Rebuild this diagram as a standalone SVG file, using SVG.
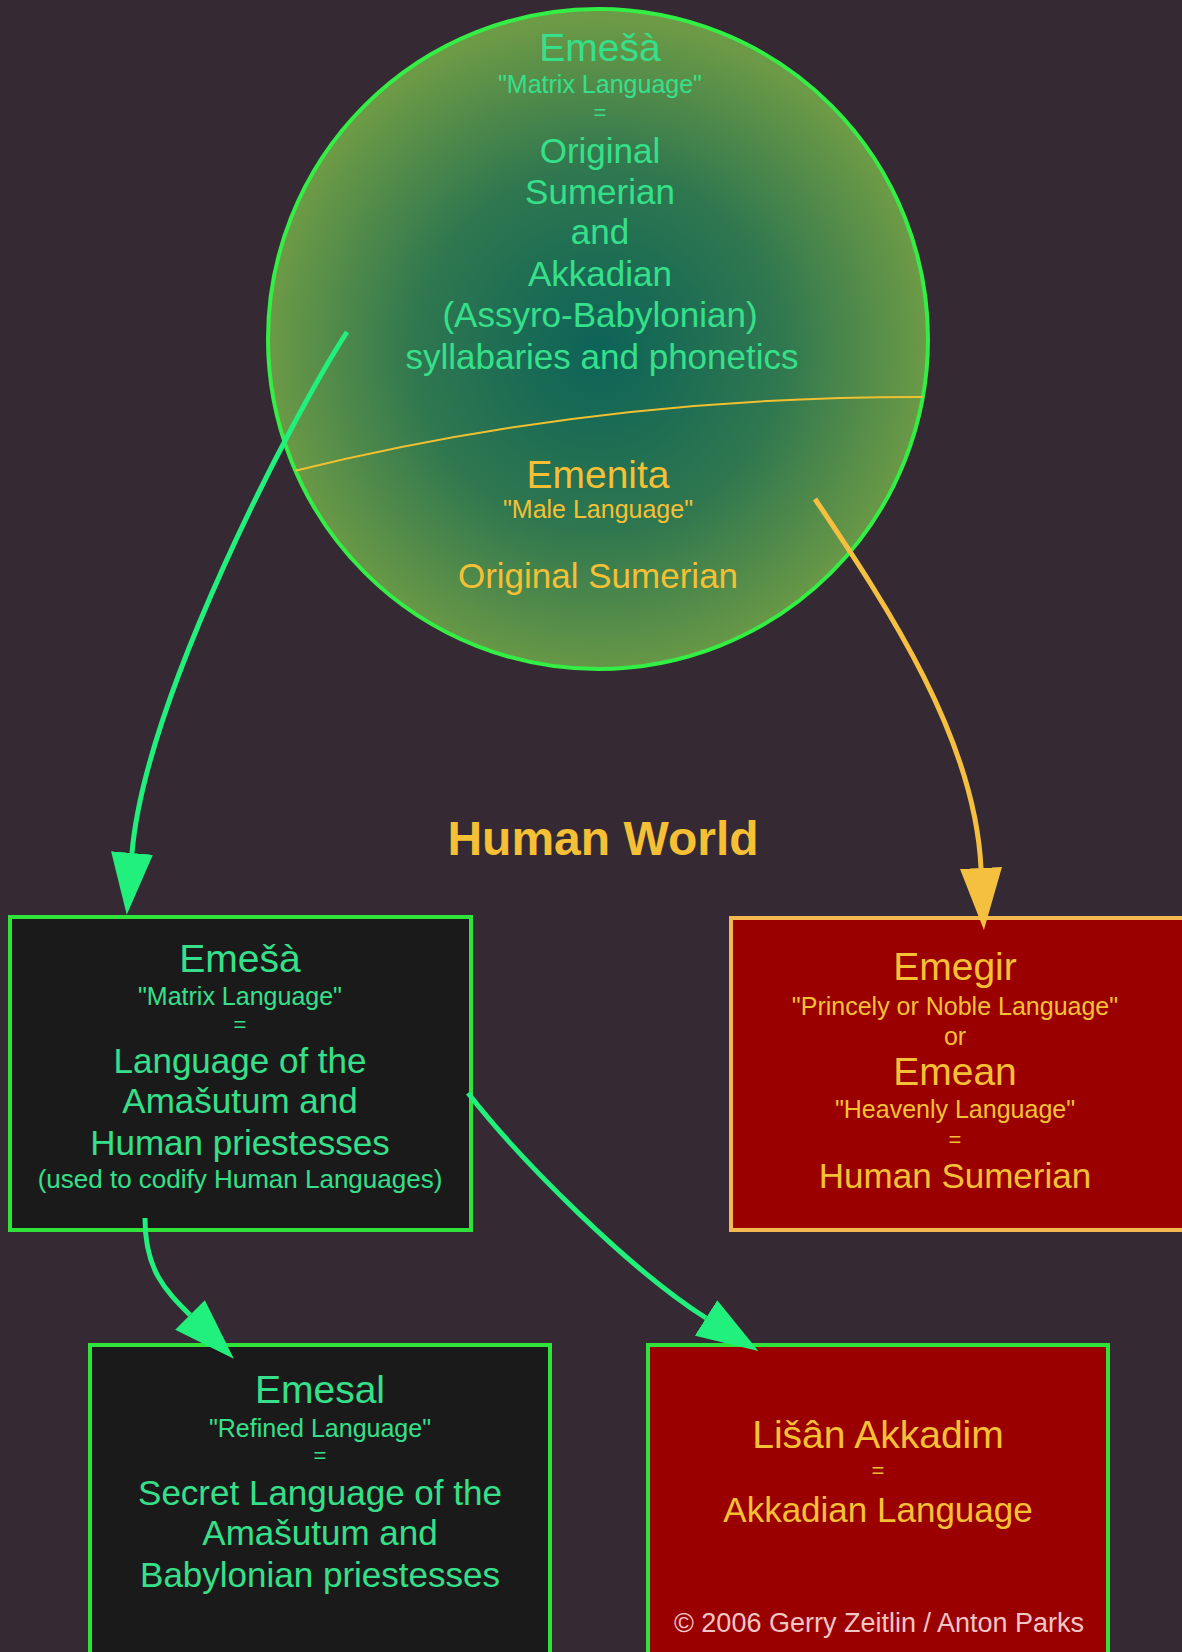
<svg xmlns="http://www.w3.org/2000/svg" width="1182" height="1652" viewBox="0 0 1182 1652">
<style>
text{font-family:"Liberation Sans",Arial,sans-serif;text-anchor:middle}
.g{fill:#36e08a}
.y{fill:#f5c035}
.t{font-size:39px}
.m{font-size:35px}
.q{font-size:25px}
.e{font-size:22px}
.box{stroke-width:4}
.gb{fill:#1b1a1b;stroke:#30e33a}
.rb{fill:#9a0000}
.conn{fill:none;stroke-width:5}
</style>
<defs>
<radialGradient id="cg" cx="598" cy="350" r="330" gradientUnits="userSpaceOnUse">
<stop offset="0" stop-color="#0c6358"/>
<stop offset="0.55" stop-color="#2f774f"/>
<stop offset="1" stop-color="#6c9a46"/>
</radialGradient>
<clipPath id="cc"><circle cx="598" cy="339" r="330"/></clipPath>
<marker id="ag" viewBox="0 0 62 42" refX="0" refY="21" markerWidth="62" markerHeight="42" markerUnits="userSpaceOnUse" orient="auto">
<path d="M0,0 L62,21 L0,42 z" fill="#22f07c"/>
</marker>
<marker id="ay" viewBox="0 0 62 42" refX="0" refY="21" markerWidth="62" markerHeight="42" markerUnits="userSpaceOnUse" orient="auto">
<path d="M0,0 L62,21 L0,42 z" fill="#f5c040"/>
</marker>
</defs>
<rect width="1182" height="1652" fill="#352a33"/>

<g id="circle-node">
<circle cx="598" cy="339" r="330" fill="url(#cg)" stroke="#33ee44" stroke-width="4"/>
<path d="M290,472 Q600,395 935,397" fill="none" stroke="#f0c030" stroke-width="2" clip-path="url(#cc)"/>
<text x="600" y="61" class="g t">Emešà</text>
<text x="600" y="93" class="g q">"Matrix Language"</text>
<text x="600" y="120" class="g e">=</text>
<text x="600" y="163" class="g m">Original</text>
<text x="600" y="204" class="g m">Sumerian</text>
<text x="600" y="244" class="g m">and</text>
<text x="600" y="286" class="g m">Akkadian</text>
<text x="600" y="327" class="g m">(Assyro-Babylonian)</text>
<text x="602" y="369" class="g m">syllabaries and phonetics</text>
<text x="598" y="488" class="y t">Emenita</text>
<text x="598" y="518" class="y q">"Male Language"</text>
<text x="598" y="588" class="y m">Original Sumerian</text>
</g>

<g id="human-world">
<text x="603" y="855" style="font-size:48px;font-weight:bold" class="y">Human World</text>
</g>

<g id="emesa-box">
<rect x="10" y="917" width="461" height="313" class="box gb"/>
<text x="240" y="972" class="g t">Emešà</text>
<text x="240" y="1005" class="g q">"Matrix Language"</text>
<text x="240" y="1032" class="g e">=</text>
<text x="240" y="1073" class="g m">Language of the</text>
<text x="240" y="1113" class="g m">Amašutum and</text>
<text x="240" y="1155" class="g m">Human priestesses</text>
<text x="240" y="1188" class="g" style="font-size:26px">(used to codify Human Languages)</text>
</g>

<g id="emegir-box">
<rect x="731" y="918" width="470" height="312" class="box rb" stroke="#f5b850"/>
<text x="955" y="980" class="y t">Emegir</text>
<text x="955" y="1015" class="y q">"Princely or Noble Language"</text>
<text x="955" y="1045" class="y q">or</text>
<text x="955" y="1085" class="y t">Emean</text>
<text x="955" y="1118" class="y q">"Heavenly Language"</text>
<text x="955" y="1147" class="y e">=</text>
<text x="955" y="1188" class="y m">Human Sumerian</text>
</g>

<g id="emesal-box">
<rect x="90" y="1345" width="460" height="340" class="box gb"/>
<text x="320" y="1403" class="g t">Emesal</text>
<text x="320" y="1437" class="g q">"Refined Language"</text>
<text x="320" y="1463" class="g e">=</text>
<text x="320" y="1505" class="g m">Secret Language of the</text>
<text x="320" y="1545" class="g m">Amašutum and</text>
<text x="320" y="1587" class="g m">Babylonian priestesses</text>
</g>

<g id="lisan-box">
<rect x="648" y="1345" width="460" height="340" class="box rb" stroke="#30e33a"/>
<text x="878" y="1448" class="y t">Lišân Akkadim</text>
<text x="878" y="1478" class="y e">=</text>
<text x="878" y="1522" class="y m">Akkadian Language</text>
<text x="879" y="1632" style="font-size:27px;fill:#f2c6c6">© 2006 Gerry Zeitlin / Anton Parks</text>
</g>

<g id="connectors">
<path d="M347,332 C290,420 145,700 132,853" class="conn" stroke="#22f07c" marker-end="url(#ag)"/>
<path d="M815,499 C890,610 975,740 981,868" class="conn" stroke="#f5c040" marker-end="url(#ay)"/>
<path d="M145,1218 C145,1270 165,1290 190,1315" class="conn" stroke="#22f07c" marker-end="url(#ag)"/>
<path d="M468,1093 C520,1160 630,1270 706,1318" class="conn" stroke="#22f07c" marker-end="url(#ag)"/>
</g>
</svg>
